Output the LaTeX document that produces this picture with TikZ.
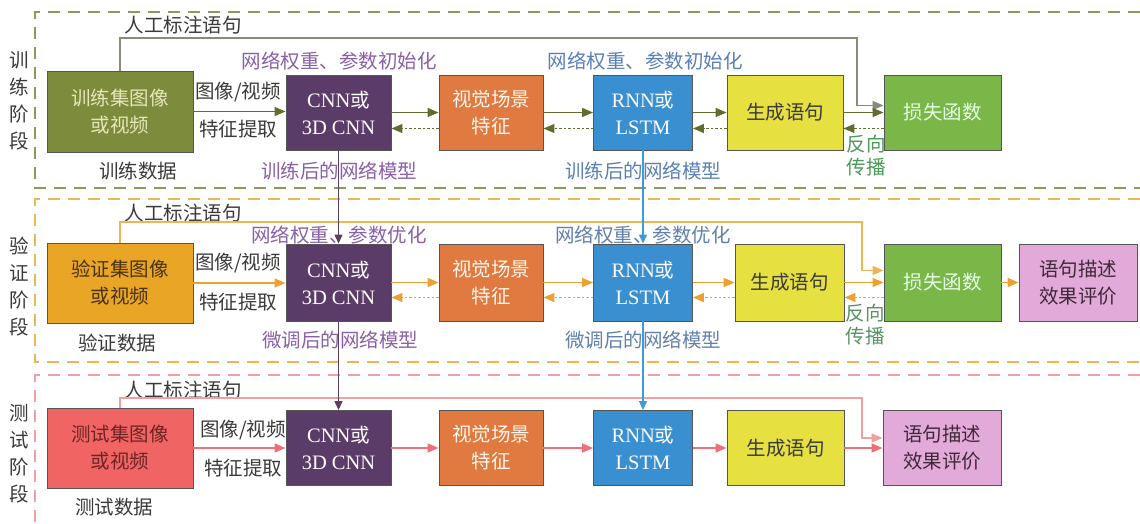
\documentclass[tikz,border=0pt]{standalone}
\usepackage{fontspec}
\setmainfont{Noto Sans CJK SC}
\newfontfamily\lat{Liberation Serif}
\usetikzlibrary{arrows.meta}
\definecolor{boxline}{HTML}{555555}
\definecolor{olivefill}{HTML}{7D8C3C}
\definecolor{olivetext}{HTML}{E6E6B8}
\definecolor{valfill}{HTML}{E9A526}
\definecolor{valtext}{HTML}{4A3212}
\definecolor{testfill}{HTML}{F06464}
\definecolor{testtext}{HTML}{6E2424}
\definecolor{cnnfill}{HTML}{5B3C68}
\definecolor{visfill}{HTML}{E07A40}
\definecolor{rnnfill}{HTML}{3A8FD0}
\definecolor{genfill}{HTML}{E6E040}
\definecolor{lossfill}{HTML}{7AB648}
\definecolor{evalfill}{HTML}{E2AAD8}
\definecolor{evaltext}{HTML}{402838}
\definecolor{rowA}{HTML}{5F6E2F}
\definecolor{rowAdash}{HTML}{8A9A5A}
\definecolor{rowAann}{HTML}{8A8A78}
\definecolor{rowB}{HTML}{F0A030}
\definecolor{rowBdash}{HTML}{F0B458}
\definecolor{rowC}{HTML}{F07078}
\definecolor{rowCdash}{HTML}{F0A0A0}
\definecolor{purpleline}{HTML}{5A3F5F}
\definecolor{purpletext}{HTML}{8A60A8}
\definecolor{blueline}{HTML}{3F9AD8}
\definecolor{bluetext}{HTML}{5A80B8}
\definecolor{greytext}{HTML}{3A3A3A}
\definecolor{bptext}{HTML}{4A9A58}
\newcommand{\latbig}[1]{{\lat\fontsize{20.5}{27}\selectfont #1}}
\begin{document}
\begin{tikzpicture}[x=1pt,y=-1pt,
  font=\fontsize{19.5}{27}\selectfont,
  bx/.style={draw=boxline, line width=0.9pt, align=center, inner sep=0pt},
  sz/.style n args={2}{minimum width=#1, minimum height=#2},
  tip/.style={-{Triangle[length=11pt,width=9pt]}},
  fwA/.style={tip, draw=rowA, line width=1.6pt},
  bkA/.style={tip, draw=rowA, line width=1.4pt, dash pattern=on 2.5pt off 2pt},
  annA/.style={tip, draw=rowAann, line width=1.5pt},
  fwB/.style={tip, draw=rowB, line width=1.6pt},
  bkB/.style={tip, draw=rowB, line width=1.4pt, dash pattern=on 2.5pt off 2pt},
  annB/.style={tip, draw=rowBdash, line width=1.5pt},
  fwC/.style={tip, draw=rowC, line width=1.6pt},
  annC/.style={tip, draw=rowCdash, line width=1.5pt},
  sect/.style={line width=1.5pt, dash pattern=on 12pt off 8pt},
  lbl/.style={text=greytext, inner sep=0pt},
  vert/.style={-{Triangle[length=9pt,width=8pt]}, line width=1.3pt}
]
\useasboundingbox (0,0) rectangle (1140,524);
\fill[white] (0,0) rectangle (1140,524);

% sections
\draw[sect, draw=rowAdash] (1140,12) -- (35,12) -- (35,188) -- (1140,188);
\draw[sect, draw=rowBdash] (1140,199) -- (35,199) -- (35,362) -- (1140,362);
\draw[sect, draw=rowCdash] (1140,375) -- (35,375) -- (35,524);

% stage labels
\node[lbl, align=center] (sA) at (19,101) {训\\练\\阶\\段};
\node[lbl, align=center] (sB) at (19,287) {验\\证\\阶\\段};
\node[lbl, align=center] (sC) at (19,454) {测\\试\\阶\\段};

% row 1
\node[bx, fill=olivefill, text=olivetext, sz={146pt}{81pt}] (in1) at (120,111.5) {训练集图像\\或视频};
\node[bx, fill=cnnfill, text=white, sz={105pt}{75pt}] (cnn1) at (338.5,112.5) {\latbig{CNN}或\\\latbig{3D CNN}};
\node[bx, fill=visfill, text=white!92!orange, sz={104pt}{75pt}] (vis1) at (491,112.5) {视觉场景\\特征};
\node[bx, fill=rnnfill, text=white, sz={99pt}{75pt}] (rnn1) at (643,112.5) {\latbig{RNN}或\\\latbig{LSTM}};
\node[bx, fill=genfill, text=greytext, sz={116pt}{75pt}] (gen1) at (785,112.5) {生成语句};
\node[bx, fill=lossfill, text=white!90!green, sz={117pt}{75pt}] (loss1) at (942.5,112.5) {损失函数};

% row 2
\node[bx, fill=valfill, text=valtext, sz={146pt}{80pt}] (in2) at (120,283) {验证集图像\\或视频};
\node[bx, fill=cnnfill, text=white, sz={105pt}{77pt}] (cnn2) at (338.5,282.5) {\latbig{CNN}或\\\latbig{3D CNN}};
\node[bx, fill=visfill, text=white!92!orange, sz={104pt}{77pt}] (vis2) at (491,282.5) {视觉场景\\特征};
\node[bx, fill=rnnfill, text=white, sz={99pt}{77pt}] (rnn2) at (643,282.5) {\latbig{RNN}或\\\latbig{LSTM}};
\node[bx, fill=genfill, text=greytext, sz={109pt}{77pt}] (gen2) at (789.5,282.5) {生成语句};
\node[bx, fill=lossfill, text=white!90!green, sz={117pt}{77pt}] (loss2) at (942.5,282.5) {损失函数};
\node[bx, fill=evalfill, text=evaltext, sz={118pt}{77pt}] (eval2) at (1078,282.5) {语句描述\\效果评价};

% row 3
\node[bx, fill=testfill, text=testtext, sz={146pt}{80pt}] (in3) at (120,448) {测试集图像\\或视频};
\node[bx, fill=cnnfill, text=white, sz={105pt}{75pt}] (cnn3) at (338.5,448) {\latbig{CNN}或\\\latbig{3D CNN}};
\node[bx, fill=visfill, text=white!92!orange, sz={104pt}{75pt}] (vis3) at (491,448) {视觉场景\\特征};
\node[bx, fill=rnnfill, text=white, sz={99pt}{75pt}] (rnn3) at (643,448) {\latbig{RNN}或\\\latbig{LSTM}};
\node[bx, fill=genfill, text=greytext, sz={117pt}{75pt}] (gen3) at (785.5,448) {生成语句};
\node[bx, fill=evalfill, text=evaltext, sz={118pt}{75pt}] (eval3) at (942,448) {语句描述\\效果评价};

% labels row 1
\node[lbl] (hA) at (183,25) {人工标注语句};
\node[lbl] (iA) at (238,92) {图像/视频};
\node[lbl] (fA) at (238,129) {特征提取};
\node[lbl] (dA) at (138,171) {训练数据};
\node[lbl, text=purpletext] (wA1) at (339,61) {网络权重、参数初始化};
\node[lbl, text=bluetext] (wA2) at (645,61) {网络权重、参数初始化};
\node[lbl, text=purpletext] (mA1) at (339,171) {训练后的网络模型};
\node[lbl, text=bluetext] (mA2) at (643,171) {训练后的网络模型};
\node[lbl, text=bptext, align=center, font=\fontsize{19.5}{23}\selectfont] (bpA) at (866,156) {反向\\传播};

% labels row 2
\node[lbl] (hB) at (183,213) {人工标注语句};
\node[lbl] (iB) at (238,263) {图像/视频};
\node[lbl] (fB) at (238,302) {特征提取};
\node[lbl] (dB) at (117,343) {验证数据};
\node[lbl, text=purpletext] (wB1) at (339,235) {网络权重、参数优化};
\node[lbl, text=bluetext!80!gray] (wB2) at (643,235) {网络权重、参数优化};
\node[lbl, text=purpletext] (mB1) at (340,340) {微调后的网络模型};
\node[lbl, text=bluetext!80!gray] (mB2) at (643,340) {微调后的网络模型};
\node[lbl, text=bptext!70!gray, align=center, font=\fontsize{19.5}{23}\selectfont] (bpB) at (865,325) {反向\\传播};

% labels row 3
\node[lbl] (hC) at (183,390) {人工标注语句};
\node[lbl] (iC) at (243,430) {图像/视频};
\node[lbl] (fC) at (243,468) {特征提取};
\node[lbl] (dC) at (114,507) {测试数据};

% annotation lines
\coordinate (kA) at (857,38);
\coordinate (kB) at (862,222);
\coordinate (kC) at (862,398);
\draw[annA] (in1.north) |- (kA) |- ([yshift=7pt]loss1.west);
\draw[annB] (in2.north) |- (kB) |- ([yshift=12pt]loss2.west);
\draw[annC] (in3.north) |- (kC) |- ([yshift=10pt]eval3.west);

% row 1 arrows
\draw[fwA] (in1.east) -- (in1.east -| cnn1.west);
\draw[fwA] (cnn1.east) -- (vis1.west);
\draw[fwA] (vis1.east) -- (rnn1.west);
\draw[fwA] (rnn1.east) -- (gen1.west);
\draw[fwA] (gen1.east) -- (loss1.west);
\draw[bkA] ([yshift=-16pt]vis1.west) -- ([yshift=-16pt]cnn1.east);
\draw[bkA] ([yshift=-16pt]rnn1.west) -- ([yshift=-16pt]vis1.east);
\draw[bkA] ([yshift=-16pt]gen1.west) -- ([yshift=-16pt]rnn1.east);
\draw[bkA] ([yshift=-16pt]loss1.west) -- ([yshift=-16pt]gen1.east);

% row 2 arrows
\draw[fwB] (in2.east) -- (in2.east -| cnn2.west);
\draw[fwB] (cnn2.east) -- (vis2.west);
\draw[fwB] (vis2.east) -- (rnn2.west);
\draw[fwB] (rnn2.east) -- (gen2.west);
\draw[fwB] (gen2.east) -- (loss2.west);
\draw[fwB] (loss2.east) -- (eval2.west);
\draw[bkB] ([yshift=-15pt]vis2.west) -- ([yshift=-15pt]cnn2.east);
\draw[bkB] ([yshift=-15pt]rnn2.west) -- ([yshift=-15pt]vis2.east);
\draw[bkB] ([yshift=-15pt]gen2.west) -- ([yshift=-15pt]rnn2.east);
\draw[bkB] ([yshift=-15pt]loss2.west) -- ([yshift=-15pt]gen2.east);

% row 3 arrows
\draw[fwC] (in3.east) -- (in3.east -| cnn3.west);
\draw[fwC] (cnn3.east) -- (vis3.west);
\draw[fwC] (vis3.east) -- (rnn3.west);
\draw[fwC] (rnn3.east) -- (gen3.west);
\draw[fwC] (gen3.east) -- (eval3.west);

% vertical connectors
\draw[vert, draw=purpleline] (cnn1.south) -- (cnn2.north);
\draw[vert, draw=purpleline] (cnn2.south) -- (cnn3.north);
\draw[vert, draw=blueline] (rnn1.south) -- (rnn2.north);
\draw[vert, draw=blueline] (rnn2.south) -- (rnn3.north);
\end{tikzpicture}
\end{document}
